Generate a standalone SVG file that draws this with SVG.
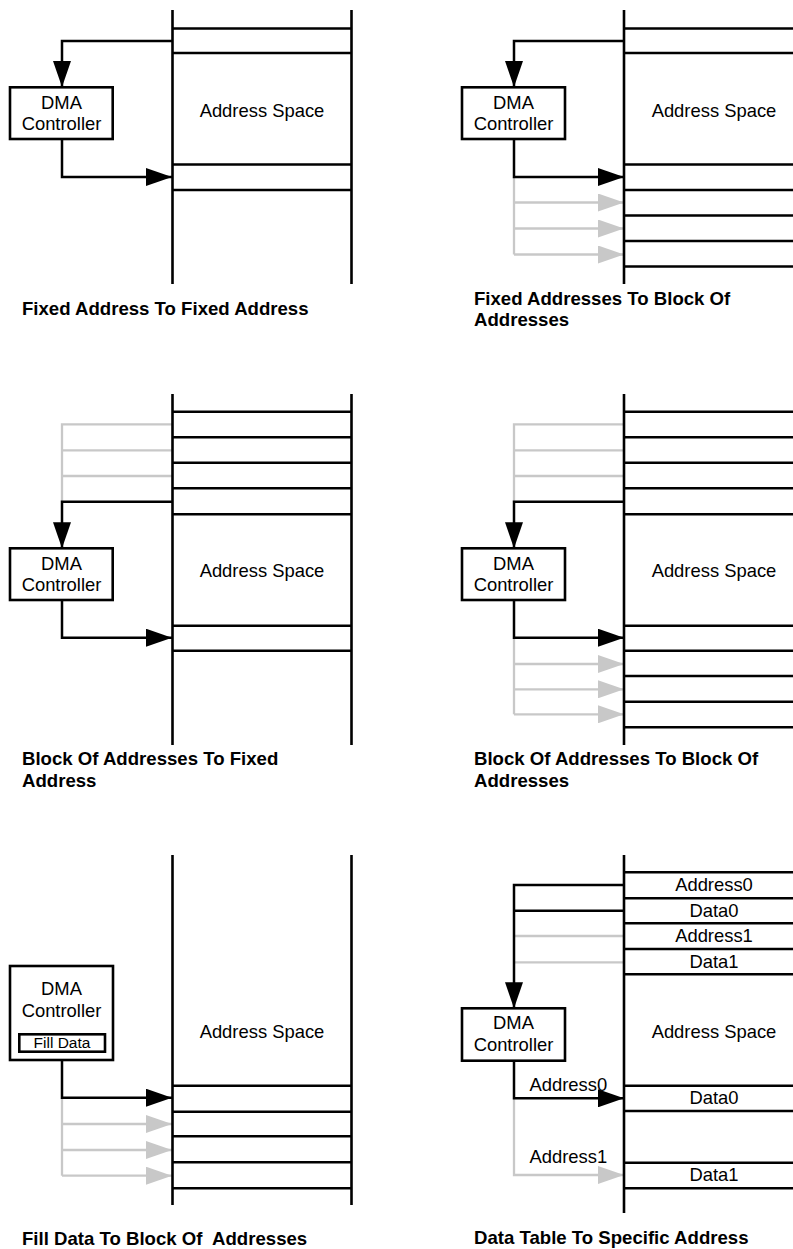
<svg xmlns="http://www.w3.org/2000/svg" width="793" height="1249" viewBox="0 0 793 1249">
<defs>
<marker id="ab" markerUnits="userSpaceOnUse" markerWidth="26" markerHeight="18" refX="26" refY="9" orient="auto"><path d="M0,0 L26,9 L0,18 z" fill="#000"/></marker>
<marker id="ag" markerUnits="userSpaceOnUse" markerWidth="26" markerHeight="18" refX="26" refY="9" orient="auto"><path d="M0,0 L26,9 L0,18 z" fill="#c8c8c8"/></marker>
</defs>
<style>
.mem{stroke:#000;stroke-width:2.6;fill:none}
.row{stroke:#000;stroke-width:2.4;fill:none}
.box{fill:#fff;stroke:#000;stroke-width:2.6}
.t{font-family:"Liberation Sans",Arial,sans-serif;font-size:18.4px;fill:#000}
.c{text-anchor:middle}
.cap{font-weight:bold;font-size:18.6px}
.sm{font-size:15.5px}
.k{stroke:#000;stroke-width:2.5;fill:none}
.g{stroke:#c8c8c8;stroke-width:2.3;fill:none}
</style>
<rect width="793" height="1249" fill="#fff"/>

<g id="connectors">
<!-- panel 1 -->
<path class="k" d="M172,41 H62 V87" marker-end="url(#ab)"/>
<path class="k" d="M62,139 V177 H172" marker-end="url(#ab)"/>
<!-- panel 2 -->
<path class="g" d="M514,177 V254.5"/>
<path class="g" d="M514,202.5 H624" marker-end="url(#ag)"/>
<path class="g" d="M514,228.5 H624" marker-end="url(#ag)"/>
<path class="g" d="M514,254.5 H624" marker-end="url(#ag)"/>
<path class="k" d="M624,41 H514 V87" marker-end="url(#ab)"/>
<path class="k" d="M514,139 V177 H624" marker-end="url(#ab)"/>
<!-- panel 3 -->
<path class="g" d="M172,424.3 H62 V501.7"/>
<path class="g" d="M172,450.3 H62"/>
<path class="g" d="M172,476 H62"/>
<path class="k" d="M172,501.7 H62 V548.3" marker-end="url(#ab)"/>
<path class="k" d="M62,600 V637.7 H172" marker-end="url(#ab)"/>
<!-- panel 4 -->
<path class="g" d="M624,424.3 H514 V501.7"/>
<path class="g" d="M624,450.3 H514"/>
<path class="g" d="M624,476 H514"/>
<path class="g" d="M514,637.7 V714.3"/>
<path class="g" d="M514,664 H624" marker-end="url(#ag)"/>
<path class="g" d="M514,689.3 H624" marker-end="url(#ag)"/>
<path class="g" d="M514,714.3 H624" marker-end="url(#ag)"/>
<path class="k" d="M624,501.7 H514 V548.3" marker-end="url(#ab)"/>
<path class="k" d="M514,600 V637.7 H624" marker-end="url(#ab)"/>
<!-- panel 5 -->
<path class="g" d="M62,1097.7 V1175.7"/>
<path class="g" d="M62,1124 H172" marker-end="url(#ag)"/>
<path class="g" d="M62,1150 H172" marker-end="url(#ag)"/>
<path class="g" d="M62,1175.7 H172" marker-end="url(#ag)"/>
<path class="k" d="M62,1060 V1097.7 H172" marker-end="url(#ab)"/>
<!-- panel 6 -->
<path class="g" d="M624,936 H514"/>
<path class="g" d="M624,962.3 H514"/>
<path class="k" d="M624,910.7 H514"/>
<path class="k" d="M624,885 H514 V1008.3" marker-end="url(#ab)"/>
<path class="g" d="M514,1098.3 V1175 H624" marker-end="url(#ag)"/>
<path class="k" d="M514,1060.7 V1098.3 H624" marker-end="url(#ab)"/>
<text class="t" x="529.5" y="1090.7">Address0</text>
<text class="t" x="529.5" y="1162.7">Address1</text>
</g>

<!-- Panel 1 -->
<g id="mem1">
<path class="mem" d="M172.5,10 V284 M351.5,10 V284"/>
<path class="row" d="M172.5,28.5 H351.5 M172.5,53 H351.5 M172.5,164.5 H351.5 M172.5,190 H351.5"/>
<text class="t c" x="262" y="117">Address Space</text>
</g>
<g id="dma1">
<rect class="box" x="10" y="87.3" width="102.7" height="51.7"/>
<text class="t c" x="61.5" y="108.5">DMA</text>
<text class="t c" x="61.5" y="130">Controller</text>
</g>
<g id="cap1"><text class="t cap" x="22" y="315">Fixed Address To Fixed Address</text></g>

<!-- Panel 2 -->
<g id="mem2">
<path class="mem" d="M624,10 V284"/>
<path class="row" d="M624,28.5 H793 M624,53 H793 M624,164.5 H793 M624,190 H793 M624,215.5 H793 M624,241 H793 M624,266.5 H793"/>
<text class="t c" x="714" y="117">Address Space</text>
</g>
<g id="dma2">
<rect class="box" x="462" y="87.3" width="103" height="51.7"/>
<text class="t c" x="513.5" y="108.5">DMA</text>
<text class="t c" x="513.5" y="130">Controller</text>
</g>
<g id="cap2"><text class="t cap" x="474" y="305">Fixed Addresses To Block Of</text><text class="t cap" x="474" y="325.7">Addresses</text></g>

<!-- Panel 3 -->
<g id="mem3">
<path class="mem" d="M172.5,394 V745 M351.5,394 V745"/>
<path class="row" d="M172.5,411.7 H351.5 M172.5,437.3 H351.5 M172.5,462.7 H351.5 M172.5,488.3 H351.5 M172.5,514.3 H351.5 M172.5,625.7 H351.5 M172.5,650.7 H351.5"/>
<text class="t c" x="262" y="577">Address Space</text>
</g>
<g id="dma3">
<rect class="box" x="10" y="548.3" width="102.7" height="51.7"/>
<text class="t c" x="61.5" y="569.5">DMA</text>
<text class="t c" x="61.5" y="591">Controller</text>
</g>
<g id="cap3"><text class="t cap" x="22" y="765">Block Of Addresses To Fixed</text><text class="t cap" x="22" y="786.7">Address</text></g>

<!-- Panel 4 -->
<g id="mem4">
<path class="mem" d="M624,394 V745"/>
<path class="row" d="M624,411.7 H793 M624,437.3 H793 M624,462.7 H793 M624,488.3 H793 M624,514.3 H793 M624,625.7 H793 M624,650.7 H793 M624,676 H793 M624,701.7 H793 M624,727.3 H793"/>
<text class="t c" x="714" y="577">Address Space</text>
</g>
<g id="dma4">
<rect class="box" x="462" y="548.3" width="103" height="51.7"/>
<text class="t c" x="513.5" y="569.5">DMA</text>
<text class="t c" x="513.5" y="591">Controller</text>
</g>
<g id="cap4"><text class="t cap" x="474" y="765">Block Of Addresses To Block Of</text><text class="t cap" x="474" y="786.7">Addresses</text></g>

<!-- Panel 5 -->
<g id="mem5">
<path class="mem" d="M172.5,855 V1205 M351.5,855 V1205"/>
<path class="row" d="M172.5,1085.7 H351.5 M172.5,1111.7 H351.5 M172.5,1136.3 H351.5 M172.5,1162.3 H351.5 M172.5,1188.3 H351.5"/>
<text class="t c" x="262" y="1038">Address Space</text>
</g>
<g id="dma5">
<rect class="box" x="10" y="966" width="103" height="94"/>
<text class="t c" x="61.5" y="995">DMA</text>
<text class="t c" x="61.5" y="1016.7">Controller</text>
<rect class="box" x="19.3" y="1034.3" width="85.7" height="17.4"/>
<text class="t c sm" x="62" y="1047.7">Fill Data</text>
</g>
<g id="cap5"><text class="t cap" x="22" y="1245" xml:space="preserve">Fill Data To Block Of  Addresses</text></g>

<!-- Panel 6 -->
<g id="mem6">
<path class="mem" d="M624,855 V1213"/>
<path class="row" d="M624,872.3 H793 M624,898.3 H793 M624,923.3 H793 M624,949 H793 M624,974.3 H793 M624,1085.7 H793 M624,1111 H793 M624,1162.7 H793 M624,1188.3 H793"/>
<text class="t c" x="714" y="891">Address0</text>
<text class="t c" x="714" y="917">Data0</text>
<text class="t c" x="714" y="942">Address1</text>
<text class="t c" x="714" y="968">Data1</text>
<text class="t c" x="714" y="1038">Address Space</text>
<text class="t c" x="714" y="1104">Data0</text>
<text class="t c" x="714" y="1181">Data1</text>
</g>
<g id="dma6">
<rect class="box" x="462" y="1008.3" width="103" height="52.4"/>
<text class="t c" x="513.5" y="1029.3">DMA</text>
<text class="t c" x="513.5" y="1051">Controller</text>
</g>
<g id="cap6"><text class="t cap" x="474" y="1244">Data Table To Specific Address</text></g>
</svg>
